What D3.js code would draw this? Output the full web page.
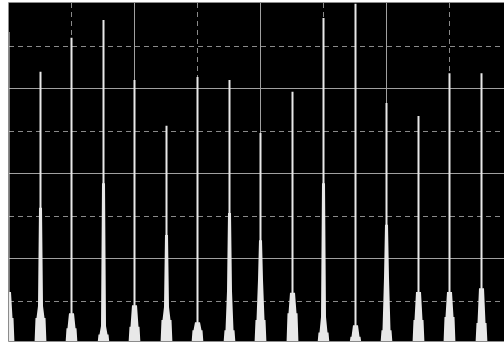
<!DOCTYPE html>
<html>
<head>
<meta charset="utf-8">
<script src="https://cdn.jsdelivr.net/npm/d3@7"></script>
<style>
  body { margin: 0; background: #fff; }
  svg { display: block; }
</style>
</head>
<body>
<div id="chart"></div>
<script>
// peak positions in grid divisions, and heights of each step of the peak
const peakX = [0, 0.5, 1, 1.5, 2, 2.5, 3, 3.5, 4, 4.5, 5, 5.5, 6, 6.5, 7, 7.5];
const peakTop = [7.32, 6.38, 7.18, 7.6, 6.19, 5.11, 6.26, 6.19, 4.94, 5.91, 7.65, 7.98, 5.65, 5.34, 6.35, 6.35];
const shoulderTop = [1.2, 3.18, 0.7, 3.76, 0.89, 2.54, 0.49, 3.06, 2.42, 1.18, 3.76, 0.42, 2.78, 1.2, 1.2, 1.29];
const midTop = [1.2, 0.87, 0.7, 0.4, 0.89, 0.85, 0.49, 1.22, 1.48, 1.18, 0.61, 0.42, 1.53, 1.2, 1.2, 1.29];
const baseTop = [0.59, 0.59, 0.35, 0.2, 0.38, 0.54, 0.3, 0.3, 0.54, 0.7, 0.25, 0.15, 0.3, 0.54, 0.61, 0.47];
const xGrid = [1, 2, 3, 4, 5, 6, 7];
const yGrid = [1, 2, 3, 4, 5, 6, 7];

const width = 504, height = 343;
const margin = { top: 3, right: 0, bottom: 2, left: 9 };

const svg = d3.select("#chart")
    .append("svg")
    .attr("width", width)
    .attr("height", height);

const x = d3.scaleLinear()
    .domain([0, (width - margin.left) / 63])
    .range([margin.left, width]);

const y = d3.scaleLinear()
    .domain([0, 8])
    .range([height, margin.top]);

// black screen
svg.append("rect")
    .attr("x", margin.left)
    .attr("y", margin.top)
    .attr("width", width - margin.left)
    .attr("height", height - margin.top - margin.bottom)
    .attr("fill", "#000");

svg.append("clipPath").attr("id", "clip")
    .append("rect")
    .attr("x", margin.left)
    .attr("y", margin.top)
    .attr("width", width - margin.left)
    .attr("height", height - margin.top - margin.bottom);

const plot = svg.append("g").attr("clip-path", "url(#clip)");

// grid: odd lines dashed, even lines solid
plot.selectAll(".vgrid")
    .data(xGrid)
    .enter().append("line")
    .attr("x1", d => Math.round(x(d)) - 0.5)
    .attr("x2", d => Math.round(x(d)) - 0.5)
    .attr("y1", margin.top)
    .attr("y2", height)
    .attr("stroke", d => d % 2 ? "#8a8a8a" : "#a0a0a0")
    .attr("stroke-dasharray", d => d % 2 ? "5,4" : null);

plot.selectAll(".hgrid")
    .data(yGrid)
    .enter().append("line")
    .attr("x1", margin.left)
    .attr("x2", width)
    .attr("y1", d => Math.round(y(d)) + 0.5)
    .attr("y2", d => Math.round(y(d)) + 0.5)
    .attr("stroke", d => d % 2 ? "#8a8a8a" : "#a0a0a0")
    .attr("stroke-dasharray", d => d % 2 ? "5,4" : null);

// each peak: thin spike, a slightly wider shoulder, then a tapered base
const peaks = peakX.map((p, i) => ({
    p: p, top: peakTop[i], shoulder: shoulderTop[i], mid: midTop[i], base: baseTop[i]
}));

function peakPath(d) {
    const c = Math.round(x(d.p)) - 0.5;
    const left = [
        [c - 6, y(0) + 1],
        [c - 5, y(d.base)],
        [c - 4, y(d.base)],
        [c - 2.5, y(d.mid)],
        [c - 1.5, y(d.shoulder)],
        [c - 1, y(d.shoulder)],
        [c - 1, y(d.top)]
    ];
    const right = left.map(pt => [2 * c - pt[0], pt[1]]).reverse();
    return d3.line()(left.concat(right)) + "Z";
}

plot.selectAll(".peak")
    .data(peaks)
    .enter().append("path")
    .attr("class", "peak")
    .attr("d", peakPath)
    .attr("fill", "#e8e8e8");

// frame
svg.append("line")
    .attr("x1", margin.left - 0.5).attr("x2", width)
    .attr("y1", margin.top - 0.5).attr("y2", margin.top - 0.5)
    .attr("stroke", "#8c8c8c");
svg.append("line")
    .attr("x1", margin.left - 0.5).attr("x2", margin.left - 0.5)
    .attr("y1", margin.top - 0.5).attr("y2", height - margin.bottom + 0.5)
    .attr("stroke", "#8c8c8c");
svg.append("line")
    .attr("x1", margin.left - 0.5).attr("x2", width)
    .attr("y1", height - margin.bottom + 0.5).attr("y2", height - margin.bottom + 0.5)
    .attr("stroke", "#8c8c8c");
</script>
</body>
</html>
